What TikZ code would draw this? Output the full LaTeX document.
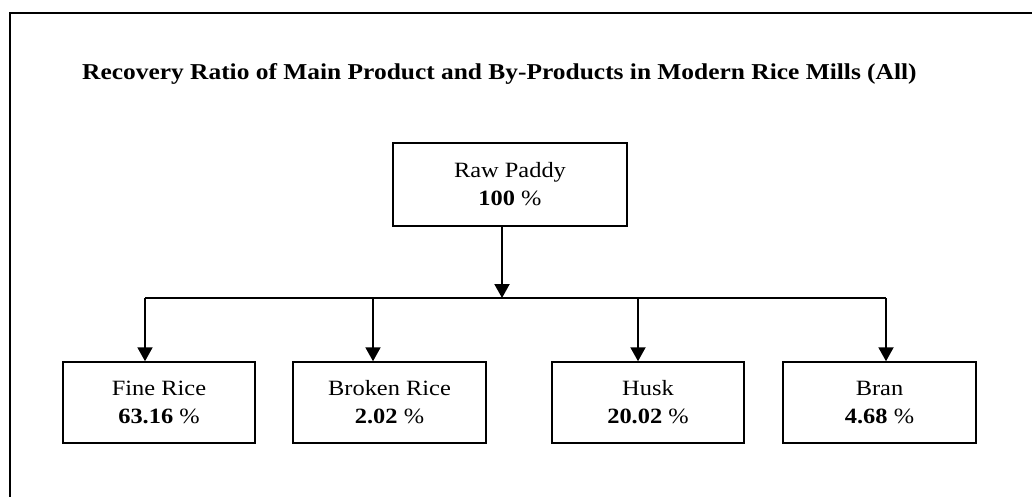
\documentclass[tikz,border=0pt]{standalone}
\usepackage{fontspec}
\setmainfont{Liberation Serif}[FakeStretch=1.12]
\usetikzlibrary{arrows.meta}
\tikzset{
  box/.style={draw, line width=1.5pt, rectangle, align=center, inner sep=0pt,
    font=\fontsize{21.8}{28}\selectfont, minimum height=81pt},
  flow/.style={line width=2pt, -{Triangle[width=15pt,length=14pt]}},
  bus/.style={line width=2pt},
  frame/.style={line width=2pt}
}
\begin{document}
\begin{tikzpicture}[x=1pt,y=-1pt]
\useasboundingbox (0,0) rectangle (1032,497);
% frame (open at right and bottom)
\coordinate (fr1) at (1034,13.5);
\coordinate (fr2) at (10,13.5);
\coordinate (fr3) at (10,499);
\draw[frame] (fr1) -- (fr2) -- (fr3);
% title
\node[anchor=base west, inner sep=0pt, font=\fontsize{22.7}{26}\selectfont\bfseries] (title) at (82,80)
  {Recovery Ratio of Main Product and By-Products in Modern Rice Mills (All)};
% boxes
\node[box, minimum width=234pt, minimum height=83pt] (raw) at (510,184.5) {Raw Paddy\\\textbf{100} \%};
\node[box, minimum width=192pt] (fine) at (159,402.5) {Fine Rice\\\textbf{63.16} \%};
\node[box, minimum width=193pt] (broken) at (389.5,402.5) {Broken Rice\\\textbf{2.02} \%};
\node[box, minimum width=192pt] (husk) at (648,402.5) {Husk\\\textbf{20.02} \%};
\node[box, minimum width=193pt] (bran) at (879.5,402.5) {Bran\\\textbf{4.68} \%};
% bus coordinates
\coordinate (b0) at (502,298);
\coordinate (b1) at (145,298);
\coordinate (b2) at (373,298);
\coordinate (b3) at (638,298);
\coordinate (b4) at (886,298);
\draw[flow] (raw.south -| b0) -- (b0);
\draw[bus] (b1) -- (b4);
\draw[flow] (b1) -- (fine.north -| b1);
\draw[flow] (b2) -- (broken.north -| b2);
\draw[flow] (b3) -- (husk.north -| b3);
\draw[flow] (b4) -- (bran.north -| b4);
\end{tikzpicture}
\end{document}
